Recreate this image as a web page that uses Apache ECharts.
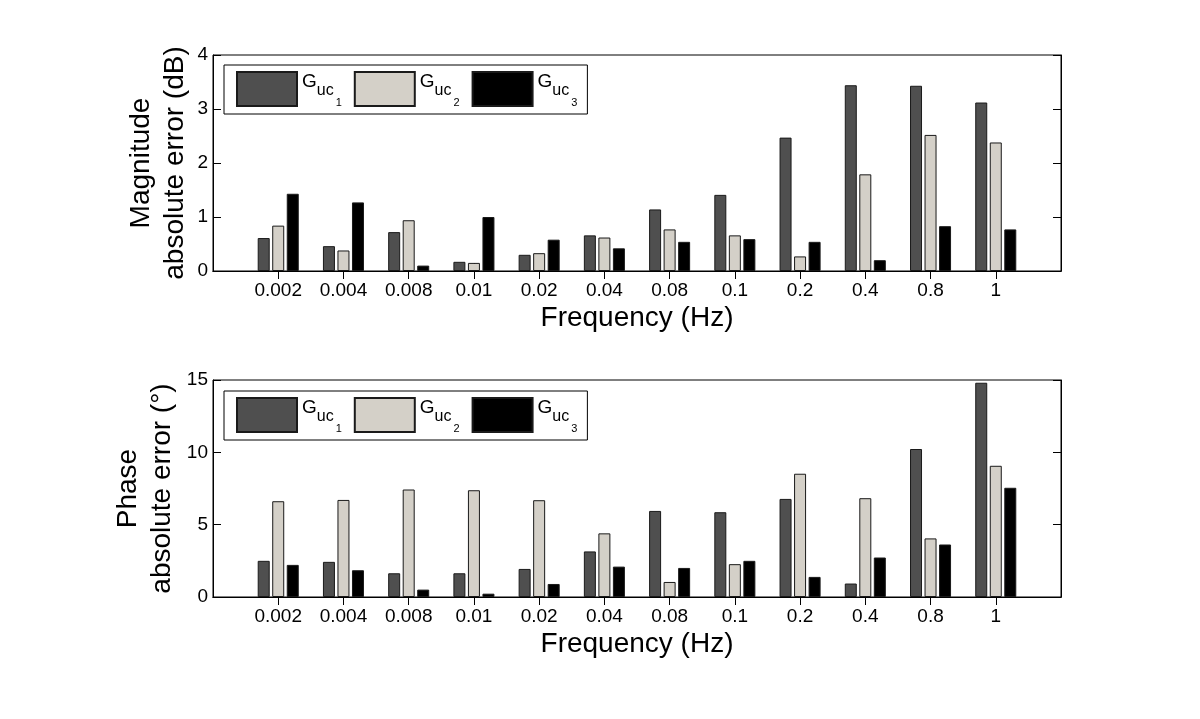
<!DOCTYPE html>
<html>
<head>
<meta charset="utf-8">
<title>Absolute error vs frequency</title>
<script src="https://cdn.jsdelivr.net/npm/echarts@6/dist/echarts.min.js"></script>
<style>
html, body { margin: 0; padding: 0; background: #fff; }
#chart { width: 1200px; height: 719px; }
</style>
</head>
<body>
<div id="chart"></div>
<script>
// frequency categories (Hz)
const freqLabels = ['0.002', '0.004', '0.008', '0.01', '0.02', '0.04', '0.08', '0.1', '0.2', '0.4', '0.8', '1'];
const seriesNames = ['Guc1', 'Guc2', 'Guc3'];

// magnitude absolute error (dB)
const magG1 = [0.61, 0.46, 0.72, 0.17, 0.30, 0.66, 1.14, 1.41, 2.47, 3.44, 3.43, 3.12];
const magG2 = [0.84, 0.38, 0.94, 0.15, 0.33, 0.62, 0.77, 0.66, 0.27, 1.79, 2.52, 2.38];
const magG3 = [1.43, 1.27, 0.10, 1.00, 0.58, 0.42, 0.54, 0.59, 0.54, 0.20, 0.83, 0.77];

// phase absolute error (deg)
const phG1 = [2.50, 2.43, 1.64, 1.64, 1.94, 3.15, 5.95, 5.86, 6.78, 0.93, 10.23, 14.81];
const phG2 = [6.62, 6.71, 7.43, 7.38, 6.69, 4.40, 1.04, 2.27, 8.52, 6.83, 4.05, 9.07];
const phG3 = [2.22, 1.85, 0.51, 0.23, 0.90, 2.10, 2.01, 2.50, 1.39, 2.73, 3.63, 7.55];

const magTicks = { min: 0, max: 4, interval: 1 };
const phTicks = { min: 0, max: 15, interval: 5 };

const FONT = '"Liberation Sans", Arial, Helvetica, sans-serif';
const barColors = ['#4f4f4f', '#d4d0c8', '#000000'];

// empty slot at both ends so ticks sit like xlim [0 13]
const xCats = [''].concat(freqLabels, [' ']);
const pad = arr => ['-'].concat(arr, ['-']);
const tickIdx = freqLabels.map((f, i) => i + 1);

const myChart = echarts.init(document.getElementById('chart'), null, { renderer: 'canvas' });

function makeXAxes(gridIndex) {
    const tick = { show: true, inside: true, length: 8, interval: 0, customValues: tickIdx, lineStyle: { color: '#000', width: 1 } };
    return [
        {
            gridIndex: gridIndex,
            type: 'category',
            data: xCats,
            boundaryGap: false,
            position: 'bottom',
            axisLine: { show: true, lineStyle: { color: '#000', width: 1 } },
            axisTick: tick,
            axisLabel: { show: true, interval: 0, color: '#000', fontSize: 19, fontFamily: FONT, margin: 10 },
            splitLine: { show: false },
            name: 'Frequency (Hz)',
            nameLocation: 'middle',
            nameGap: 33,
            nameMoveOverlap: false,
            nameTextStyle: { color: '#000', fontSize: 28, fontFamily: FONT }
        },
        {
            gridIndex: gridIndex,
            type: 'category',
            data: xCats,
            boundaryGap: false,
            position: 'top',
            axisLine: { show: true, lineStyle: { color: '#000', width: 1 } },
            axisTick: tick,
            axisLabel: { show: false },
            splitLine: { show: false }
        }
    ];
}

function makeYAxes(gridIndex, ticks, title, gap) {
    const tick = { show: true, inside: true, length: 8, lineStyle: { color: '#000', width: 1 } };
    return [
        {
            gridIndex: gridIndex,
            type: 'value',
            position: 'left',
            min: ticks.min,
            max: ticks.max,
            interval: ticks.interval,
            axisLine: { show: true, lineStyle: { color: '#000', width: 1 } },
            axisTick: tick,
            axisLabel: { color: '#000', fontSize: 19, fontFamily: FONT, margin: 5 },
            splitLine: { show: false },
            name: title,
            nameLocation: 'middle',
            nameRotate: 90,
            nameGap: gap,
            nameMoveOverlap: false,
            nameTextStyle: { color: '#000', fontSize: 28, lineHeight: 34, fontFamily: FONT }
        },
        {
            gridIndex: gridIndex,
            type: 'value',
            position: 'right',
            min: ticks.min,
            max: ticks.max,
            interval: ticks.interval,
            axisLine: { show: true, lineStyle: { color: '#000', width: 1 } },
            axisTick: tick,
            axisLabel: { show: false },
            splitLine: { show: false }
        }
    ];
}

function makeLegend(top) {
    return {
        left: 224,
        top: top,
        orient: 'horizontal',
        padding: [6, 10, 6, 12],
        itemGap: 12,
        itemWidth: 60,
        itemHeight: 34,
        icon: 'rect',
        backgroundColor: '#fff',
        borderColor: '#000',
        borderWidth: 1,
        borderRadius: 0,
        selectedMode: false,
        data: seriesNames,
        formatter: name => '{g|G}{u|uc}{s|' + name.slice(-1) + '}',
        textStyle: {
            color: '#000',
            fontFamily: FONT,
            rich: {
                g: { fontSize: 19, fontFamily: FONT, color: '#000', verticalAlign: 'top', padding: [2, 0, 0, 0] },
                u: { fontSize: 16, fontFamily: FONT, color: '#000', verticalAlign: 'top', padding: [13, 0, 0, 0] },
                s: { fontSize: 11, fontFamily: FONT, color: '#000', verticalAlign: 'top', padding: [27, 0, 0, 2] }
            }
        }
    };
}

function makeSeries(values, idx, axisIdx) {
    return {
        name: seriesNames[idx],
        type: 'bar',
        xAxisIndex: axisIdx,
        yAxisIndex: axisIdx,
        data: pad(values),
        barWidth: 12,
        barGap: '21%',
        itemStyle: { color: barColors[idx], borderColor: '#1a1a1a', borderWidth: 1 },
        emphasis: { disabled: true },
        animation: false
    };
}

const gridBase = { show: true, borderColor: '#000', borderWidth: 1, backgroundColor: '#fff', left: 213, right: 139, containLabel: false, outerBoundsMode: 'none' };

const option = {
    backgroundColor: '#fff',
    animation: false,
    textStyle: { fontFamily: FONT },
    grid: [
        Object.assign({}, gridBase, { top: 55, height: 216 }),
        Object.assign({}, gridBase, { top: 380, height: 217 })
    ],
    legend: [makeLegend(65), makeLegend(391)],
    xAxis: makeXAxes(0).concat(makeXAxes(1)),
    yAxis: makeYAxes(0, magTicks, 'Magnitude\nabsolute error (dB)', 21)
        .concat(makeYAxes(1, phTicks, 'Phase\nabsolute error (°)', 34)),
    series: [
        makeSeries(magG1, 0, 0),
        makeSeries(magG2, 1, 0),
        makeSeries(magG3, 2, 0),
        makeSeries(phG1, 0, 2),
        makeSeries(phG2, 1, 2),
        makeSeries(phG3, 2, 2)
    ]
};

myChart.setOption(option);
</script>
</body>
</html>
